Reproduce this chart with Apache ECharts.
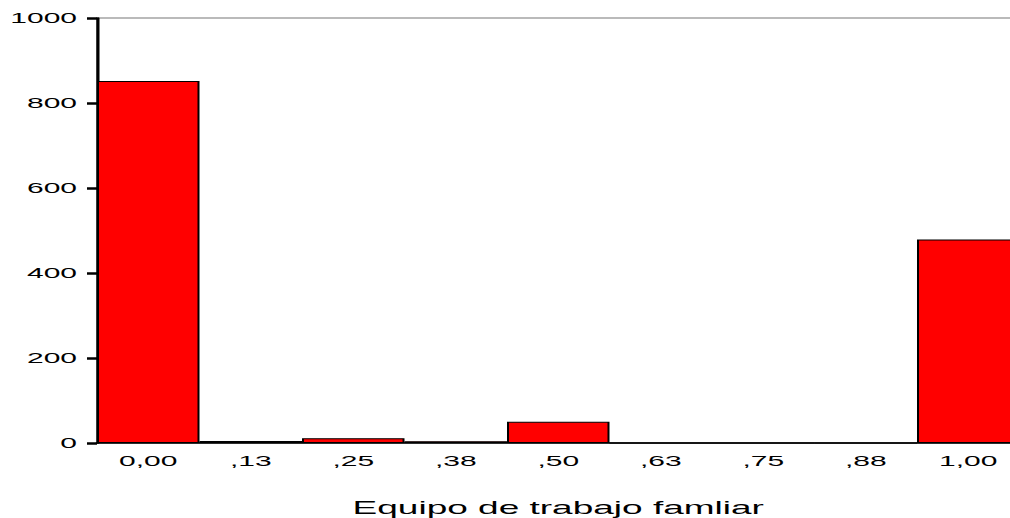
<!DOCTYPE html>
<html>
<head>
<meta charset="utf-8">
<script src="https://cdn.jsdelivr.net/npm/echarts@6/dist/echarts.min.js"></script>
<style>
html,body{margin:0;padding:0;background:#fff;overflow:hidden;}
#chart{width:505px;height:518px;transform:scaleX(2);transform-origin:0 0;}
</style>
</head>
<body>
<div id="chart"></div>
<script>
const categories = ['0,00', ',13', ',25', ',38', ',50', ',63', ',75', ',88', '1,00'];
const counts = [852, 5, 11, 4, 50, 0, 0, 0, 479];
const yTicks = [0, 200, 400, 600, 800, 1000];
const xTitle = 'Equipo de trabajo famliar';

const chart = echarts.init(document.getElementById('chart'), null, {renderer: 'svg'});
chart.setOption({
  animation: false,
  backgroundColor: '#fff',
  grid: {left: 48.5, top: 18, bottom: 75, width: 461.25, outerBoundsMode: 'none', containLabel: false,
         show: true, borderColor: '#777', borderWidth: 1, backgroundColor: 'transparent'},
  xAxis: {
    type: 'category',
    data: categories,
    name: xTitle,
    nameLocation: 'middle',
    nameGap: 55,
    nameTextStyle: {fontFamily: 'Liberation Sans', fontSize: 18.5, color: '#000'},
    axisLine: {lineStyle: {color: '#000', width: 1.5}},
    axisTick: {alignWithLabel: true, length: 4, lineStyle: {color: '#000', width: 4}},
    axisLabel: {fontFamily: 'Liberation Sans', fontSize: 15, color: '#000', margin: 10}
  },
  yAxis: {
    type: 'value',
    min: yTicks[0],
    max: yTicks[yTicks.length - 1],
    interval: 200,
    axisLine: {show: true, lineStyle: {color: '#000', width: 1.5}},
    axisTick: {show: true, length: 5, lineStyle: {color: '#000', width: 2.5}},
    splitLine: {show: false},
    axisLabel: {fontFamily: 'Liberation Sans', fontSize: 15, color: '#000', margin: 10,
                formatter: v => String(v)}
  },
  series: [{
    type: 'bar',
    data: counts,
    barCategoryGap: '0%',
    itemStyle: {color: '#ff0000', borderColor: '#000', borderWidth: 1}
  }]
});
</script>
</body>
</html>
